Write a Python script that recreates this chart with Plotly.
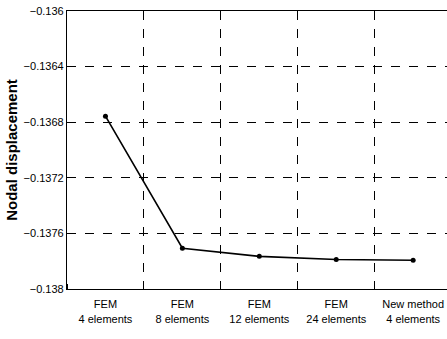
import plotly.graph_objects as go

categories = ["FEM<br>4 elements", "FEM<br>8 elements", "FEM<br>12 elements",
              "FEM<br>24 elements", "New method<br>4 elements"]
positions = [0, 1, 2, 3, 4]
displacement = [-0.136757, -0.137707, -0.137765, -0.137788, -0.137793]
y_ticks = [-0.136, -0.1364, -0.1368, -0.1372, -0.1376, -0.138]
y_tick_text = ["\u22120.136", "\u22120.1364", "\u22120.1368", "\u22120.1372", "\u22120.1376", "\u22120.138"]

fig = go.Figure()
fig.add_trace(go.Scatter(
    x=positions, y=displacement, mode="lines+markers",
    line=dict(color="black", width=1.6),
    marker=dict(color="black", size=5),
    showlegend=False,
))

font = "Liberation Sans, Arial, sans-serif"
fig.update_layout(
    width=447, height=339,
    margin=dict(l=67, r=0, t=11, b=50),
    paper_bgcolor="white", plot_bgcolor="white",
    font=dict(family=font, color="black", size=11),
    xaxis=dict(
        range=[-0.5, 4.44],
        tickmode="array", tickvals=positions, ticktext=categories,
        showgrid=False, zeroline=False,
        showline=True, linecolor="black", linewidth=1.2, mirror=True,
        ticks="", tickfont=dict(size=11, family=font), ticklabelstandoff=5,
        minor=dict(tick0=0.5, dtick=1, showgrid=True, gridcolor="black",
                   griddash="dash", gridwidth=1, ticks="inside", ticklen=5,
                   tickcolor="black"),
    ),
    yaxis=dict(
        range=[-0.138, -0.136],
        tickmode="array", tickvals=y_ticks, ticktext=y_tick_text,
        showgrid=True, gridcolor="black", griddash="dash", gridwidth=1,
        zeroline=False,
        showline=True, linecolor="black", linewidth=1.2, mirror=False,
        ticks="", tickfont=dict(size=11, family=font),
        title=dict(text="<b>Nodal displacement</b>", font=dict(size=15, family=font), standoff=2),
    ),
)

fig.write_html("out.html")
